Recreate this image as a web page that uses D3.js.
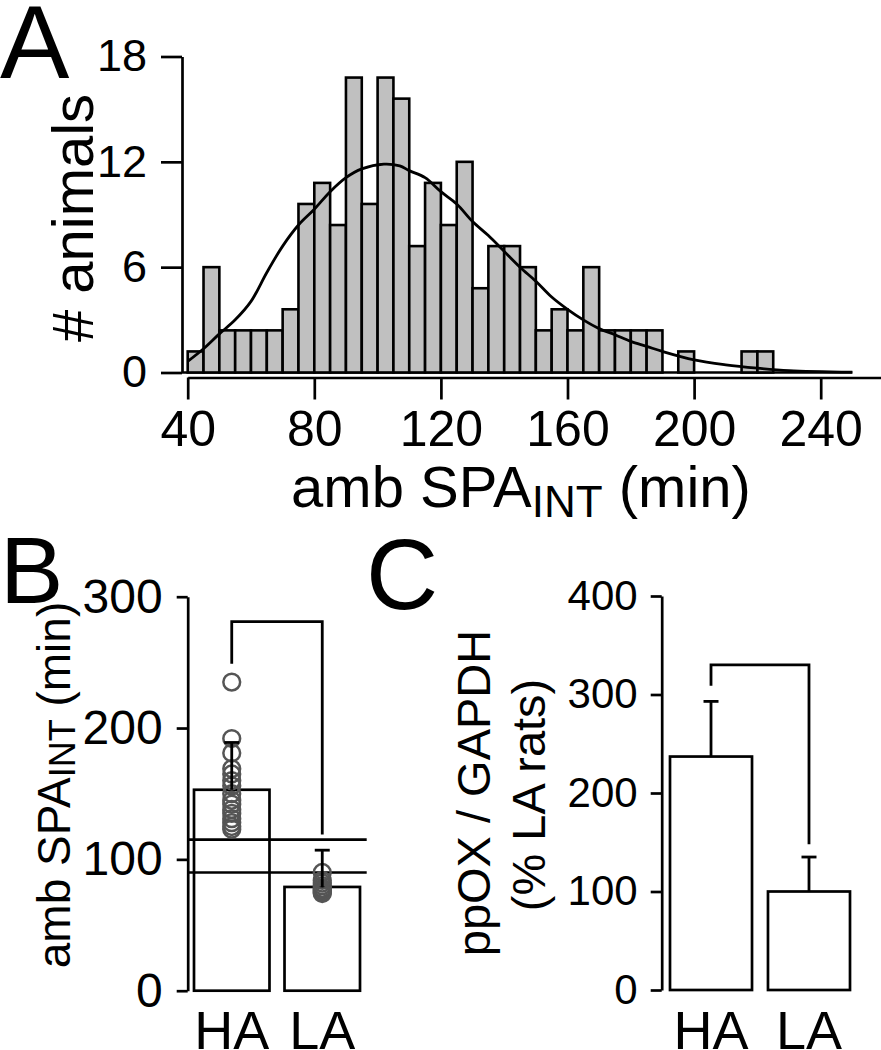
<!DOCTYPE html>
<html>
<head>
<meta charset="utf-8">
<script src="https://cdn.jsdelivr.net/npm/d3@7"></script>
<style>
  body { margin: 0; background: #fff; }
  svg { display: block; font-family: "Liberation Sans", Arial, Helvetica, sans-serif; }
</style>
</head>
<body>
<svg id="fig" width="881" height="1050"></svg>
<script>
// panel A: histogram of amb SPA_INT (5 min bins)
const binStarts = [40, 45, 50, 55, 60, 65, 70, 75, 80, 85, 90, 95, 100, 105, 110, 115, 120, 125, 130, 135,
                   140, 145, 150, 155, 160, 165, 170, 175, 180, 185, 190, 195, 200, 205, 210, 215, 220];
const binCounts = [1.2, 6, 2.4, 2.4, 2.4, 2.4, 3.6, 9.6, 10.8, 8.4, 16.8, 9.6, 16.8, 15.6, 7.2, 10.8, 8.4, 12, 4.8, 7.2,
                   7.2, 6, 2.4, 3.6, 2.4, 6, 2.4, 2.4, 2.4, 2.4, 0, 1.2, 0, 0, 0, 1.2, 1.2];
const binWidth = 5;
const xTicksA = [40, 80, 120, 160, 200, 240];
const yTicksA = [0, 6, 12, 18];

// fitted distribution curve
const fitX = [40, 45, 50, 55, 60, 65, 70, 75, 80, 85, 90, 95, 102, 107, 110, 115, 120, 125, 130, 135,
              140, 145, 150, 155, 160, 165, 170, 175, 180, 185, 190, 200, 210, 220, 230, 250];
const fitY = [0.63, 1.35, 2.2, 3.0, 4.05, 5.7, 7.2, 8.4, 9.3, 10.3, 11.1, 11.6, 11.87, 11.77, 11.5, 11.1, 10.3, 9.6, 8.6, 7.8,
              6.9, 6.0, 5.2, 4.3, 3.6, 3.0, 2.5, 2.15, 1.77, 1.49, 1.2, 0.72, 0.44, 0.25, 0.11, 0.02];

// panel B: amb SPA_INT per group
const groups = ["HA", "LA"];
const spaMean = [153, 79];
const spaErr = [189, 107];
const spaHA = [235, 192, 181, 169, 165, 160, 156, 150, 145, 142, 138, 135, 131, 128, 125, 123];
const spaLA = [90, 84, 82, 80, 78, 77, 76, 75, 74];
const spaCutoffs = [115, 90];
const spaBracket = [249, 281, 119];   // left foot, top, right foot
const yTicksB = [0, 100, 200, 300];

// panel C: ppOX / GAPDH
const oxMean = [237, 100];
const oxErr = [293, 135];
const oxBracket = [309, 330, 148];
const yTicksC = [0, 100, 200, 300, 400];

const svg = d3.select("#fig");
const LW = 2.7;

function styleAxis(g, size) {
  g.selectAll(".domain").attr("stroke", "#000").attr("stroke-width", LW);
  g.selectAll(".tick line").attr("stroke", "#000").attr("stroke-width", LW);
  g.selectAll(".tick text").attr("fill", "#000").attr("font-size", size)
    .attr("font-family", "Liberation Sans, Arial, sans-serif");
}

// ---------- A ----------
let x = d3.scaleLinear().domain([40, 240]).range([187.7, 820.7]);
let yA = d3.scaleLinear().domain([0, 18]).range([372.5, 56.5]);

let gA = svg.append("g");
gA.append("g").attr("transform", "translate(182,0)")
  .call(d3.axisLeft(yA).tickValues(yTicksA).tickSize(21).tickPadding(14).tickSizeOuter(0))
  .call(g => styleAxis(g, 45));

let xAxisScale = x.copy().domain([40, 259]).range([x(40), x(259)]);
gA.append("g").attr("transform", "translate(0,377.5)")
  .call(d3.axisBottom(xAxisScale).tickValues(xTicksA).tickSize(22).tickPadding(11).tickSizeOuter(0))
  .call(g => styleAxis(g, 50));

// baseline under the bars
gA.append("line")
  .attr("x1", 182).attr("x2", x(250))
  .attr("y1", yA(0)).attr("y2", yA(0))
  .attr("stroke", "#000").attr("stroke-width", LW);

gA.selectAll("rect.bin")
  .data(binStarts.map((b, i) => ({ b, c: binCounts[i] })).filter(d => d.c > 0))
  .join("rect")
  .attr("class", "bin")
  .attr("x", d => x(d.b))
  .attr("width", d => x(d.b + binWidth) - x(d.b))
  .attr("y", d => yA(d.c))
  .attr("height", d => yA(0) - yA(d.c))
  .attr("fill", "#c0c0c0")
  .attr("stroke", "#000")
  .attr("stroke-width", 2.6);

gA.append("path")
  .datum(fitX.map((v, i) => [v, fitY[i]]))
  .attr("fill", "none")
  .attr("stroke", "#000")
  .attr("stroke-width", 2.8)
  .attr("d", d3.line().x(d => x(d[0])).y(d => yA(d[1])).curve(d3.curveCatmullRom));

gA.append("text")
  .attr("transform", "translate(93,218) rotate(-90)")
  .attr("text-anchor", "middle").attr("font-size", 58)
  .text("# animals");

let xt = gA.append("text").attr("x", 521).attr("y", 507)
  .attr("text-anchor", "middle").attr("font-size", 58);
xt.append("tspan").text("amb SPA");
xt.append("tspan").attr("font-size", 44).attr("dy", 10).text("INT");
xt.append("tspan").attr("dy", -10).text(" (min)");

svg.append("text").attr("x", 0).attr("y", 78).attr("font-size", 104).text("A");

// ---------- B ----------
let xB = d3.scaleBand().domain(groups).range([194, 360]).paddingInner(0.166);
let yB = d3.scaleLinear().domain([0, 300]).range([990.7, 596.7]);
let gB = svg.append("g");

gB.append("g").attr("transform", "translate(187.7,0)")
  .call(d3.axisLeft(yB).tickValues(yTicksB).tickSize(11).tickPadding(14).tickSizeOuter(0))
  .call(g => styleAxis(g, 48));

gB.selectAll("rect.bar").data(groups).join("rect")
  .attr("class", "bar")
  .attr("x", d => xB(d)).attr("width", xB.bandwidth())
  .attr("y", (d, i) => yB(spaMean[i]))
  .attr("height", (d, i) => yB(0) - yB(spaMean[i]))
  .attr("fill", "#fff").attr("stroke", "#000").attr("stroke-width", LW);

// cutoff lines
gB.selectAll("line.cut").data(spaCutoffs).join("line")
  .attr("class", "cut")
  .attr("x1", 187.7).attr("x2", 366.7)
  .attr("y1", d => yB(d)).attr("y2", d => yB(d))
  .attr("stroke", "#000").attr("stroke-width", LW);

let pts = spaHA.map(v => ["HA", v]).concat(spaLA.map(v => ["LA", v]));
gB.selectAll("circle").data(pts).join("circle")
  .attr("cx", d => xB(d[0]) + xB.bandwidth() / 2)
  .attr("cy", d => yB(d[1]))
  .attr("r", 8.4)
  .attr("fill", "none").attr("stroke", "#555").attr("stroke-width", 2.5);

function errBars(g, xs, ys, means, errs, cap) {
  groups.forEach((k, i) => {
    let cx = xs(k) + xs.bandwidth() / 2;
    g.append("line").attr("x1", cx).attr("x2", cx)
      .attr("y1", ys(means[i])).attr("y2", ys(errs[i]))
      .attr("stroke", "#000").attr("stroke-width", 2.8);
    g.append("line").attr("x1", cx - cap).attr("x2", cx + cap)
      .attr("y1", ys(errs[i])).attr("y2", ys(errs[i]))
      .attr("stroke", "#000").attr("stroke-width", 2.8);
  });
}
function bracket(g, xs, ys, b) {
  let x1 = xs("HA") + xs.bandwidth() / 2, x2 = xs("LA") + xs.bandwidth() / 2;
  g.append("path")
    .attr("d", `M${x1},${ys(b[0])}V${ys(b[1])}H${x2}V${ys(b[2])}`)
    .attr("fill", "none").attr("stroke", "#000").attr("stroke-width", 2.8);
}
errBars(gB, xB, yB, spaMean, spaErr, 7.5);
bracket(gB, xB, yB, spaBracket);

gB.selectAll("text.cat").data(groups).join("text")
  .attr("class", "cat")
  .attr("x", d => xB(d) + xB.bandwidth() / 2).attr("y", 1049)
  .attr("text-anchor", "middle").attr("font-size", 54)
  .text(d => d);

let yt = gB.append("text")
  .attr("transform", "translate(70,785) rotate(-90)")
  .attr("text-anchor", "middle").attr("font-size", 46);
yt.append("tspan").text("amb SPA");
yt.append("tspan").attr("font-size", 36).attr("dy", 5).text("INT");
yt.append("tspan").attr("dy", -5).text(" (min)");

svg.append("text").attr("x", 0).attr("y", 603).attr("font-size", 95).text("B");

// ---------- C ----------
let xC = d3.scaleBand().domain(groups).range([670, 850]).paddingInner(0.163);
let yC = d3.scaleLinear().domain([0, 400]).range([990, 596]);
let gC = svg.append("g");

gC.append("g").attr("transform", "translate(661.7,0)")
  .call(d3.axisLeft(yC).tickValues(yTicksC).tickSize(11).tickPadding(13).tickSizeOuter(0))
  .call(g => styleAxis(g, 42));

gC.selectAll("rect.bar").data(groups).join("rect")
  .attr("class", "bar")
  .attr("x", d => xC(d)).attr("width", xC.bandwidth())
  .attr("y", (d, i) => yC(oxMean[i]))
  .attr("height", (d, i) => yC(0) - yC(oxMean[i]))
  .attr("fill", "#fff").attr("stroke", "#000").attr("stroke-width", LW);

errBars(gC, xC, yC, oxMean, oxErr, 7.5);
bracket(gC, xC, yC, oxBracket);

gC.selectAll("text.cat").data(groups).join("text")
  .attr("class", "cat")
  .attr("x", d => xC(d) + xC.bandwidth() / 2).attr("y", 1049)
  .attr("text-anchor", "middle").attr("font-size", 54)
  .text(d => d);

gC.append("text")
  .attr("transform", "translate(490,793) rotate(-90)")
  .attr("text-anchor", "middle").attr("font-size", 47)
  .text("ppOX / GAPDH");
gC.append("text")
  .attr("transform", "translate(545,795) rotate(-90)")
  .attr("text-anchor", "middle").attr("font-size", 47)
  .text("(% LA rats)");

svg.append("text").attr("x", 366).attr("y", 609).attr("font-size", 100).text("C");
</script>
</body>
</html>
